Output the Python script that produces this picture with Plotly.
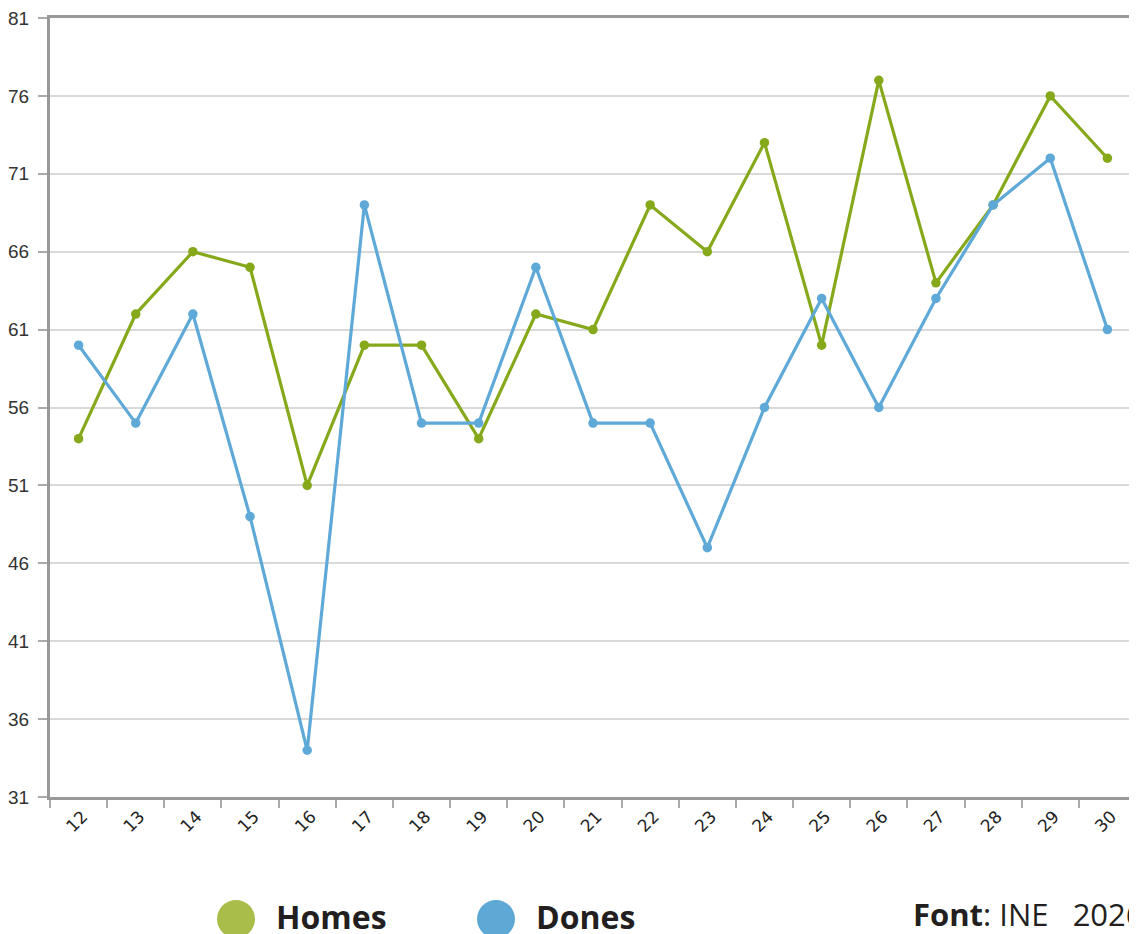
import plotly.graph_objects as go

categories = ["12", "13", "14", "15", "16", "17", "18", "19", "20", "21",
              "22", "23", "24", "25", "26", "27", "28", "29", "30"]
homes = [54, 62, 66, 65, 51, 60, 60, 54, 62, 61, 69, 66, 73, 60, 77, 64, 69, 76, 72]
dones = [60, 55, 62, 49, 34, 69, 55, 55, 65, 55, 55, 47, 56, 63, 56, 63, 69, 72, 61]
y_ticks = [31, 36, 41, 46, 51, 56, 61, 66, 71, 76, 81]

GREEN = "#86a91c"
BLUE = "#5ea9d8"
GREEN_LEG = "#a9bd4b"
BLUE_LEG = "#5ea8d6"
TEXT = "#231f20"

# page body has an 8px margin: figure placed at (8, 8) in the window
OFF = 8
PAGE_W, PAGE_H = 1137, 934
W, H = PAGE_W - OFF, PAGE_H - OFF
# plot area in page pixels: left 50, top 18, right 1136, bottom 797
L = 50 - OFF
T = 18 - OFF
R = W - (1136 - OFF)
B = H - (797 - OFF)
pw, ph = W - L - R, H - T - B


def px_x(px):
    """page pixel x -> paper coordinate"""
    return (px - OFF - L) / pw


def px_y(py):
    """page pixel y -> paper coordinate"""
    return (H - B - (py - OFF)) / ph


fig = go.Figure()
fig.add_trace(go.Scatter(x=categories, y=homes, name="Homes", mode="lines+markers",
                         line=dict(color=GREEN, width=3.2), marker=dict(color=GREEN, size=9.5)))
fig.add_trace(go.Scatter(x=categories, y=dones, name="Dones", mode="lines+markers",
                         line=dict(color=BLUE, width=3.2), marker=dict(color=BLUE, size=9.5)))

fig.update_layout(
    width=W, height=H,
    margin=dict(l=L, r=R, t=T, b=B, pad=0, autoexpand=False),
    plot_bgcolor="white", paper_bgcolor="white",
    showlegend=False,
    xaxis=dict(type="category", tickson="boundaries", ticks="outside", ticklen=8,
               tickcolor="#aaaaaa", tickwidth=2, tickangle=-45, automargin=False,
               ticklabelshift=4, ticklabeloverflow="allow",
               tickfont=dict(family="DejaVu Sans, Verdana", size=17, color="#222222"),
               showgrid=False, showline=True, linecolor="#999999", linewidth=3,
               mirror=True, range=[-0.5, 18.5]),
    yaxis=dict(range=[31, 81], tickvals=y_ticks, ticks="outside", ticklen=9,
               tickcolor="#aaaaaa", tickwidth=2, automargin=False,
               ticklabeloverflow="allow", ticklabelstandoff=5,
               tickfont=dict(family="Liberation Sans, Arial", size=19, color="#333333"),
               showgrid=True, gridcolor="#d9d9d9", gridwidth=2,
               showline=True, linecolor="#999999", linewidth=3, mirror=True,
               zeroline=False),
)

# legend built from shapes and annotations
for cx, col in [(236, GREEN_LEG), (496, BLUE_LEG)]:
    fig.add_shape(type="circle", xref="paper", yref="paper",
                  xsizemode="pixel", ysizemode="pixel",
                  xanchor=px_x(cx), yanchor=px_y(919),
                  x0=-19, x1=19, y0=-19, y1=19,
                  fillcolor=col, line=dict(width=0))

for tx, label in [(274, "Homes"), (534, "Dones")]:
    fig.add_annotation(xref="paper", yref="paper", x=px_x(tx), y=px_y(916.5),
                       xanchor="left", yanchor="middle", showarrow=False,
                       text="<b>" + label + "</b>",
                       font=dict(family="Open Sans", size=32, color=TEXT))

fig.add_annotation(xref="paper", yref="paper", x=px_x(911), y=px_y(914.5),
                   xanchor="left", yanchor="middle", showarrow=False,
                   text="<b>Font</b>: INE&nbsp;&nbsp; 2026",
                   font=dict(family="Open Sans", size=31, color=TEXT))

fig.write_html("out.html")
